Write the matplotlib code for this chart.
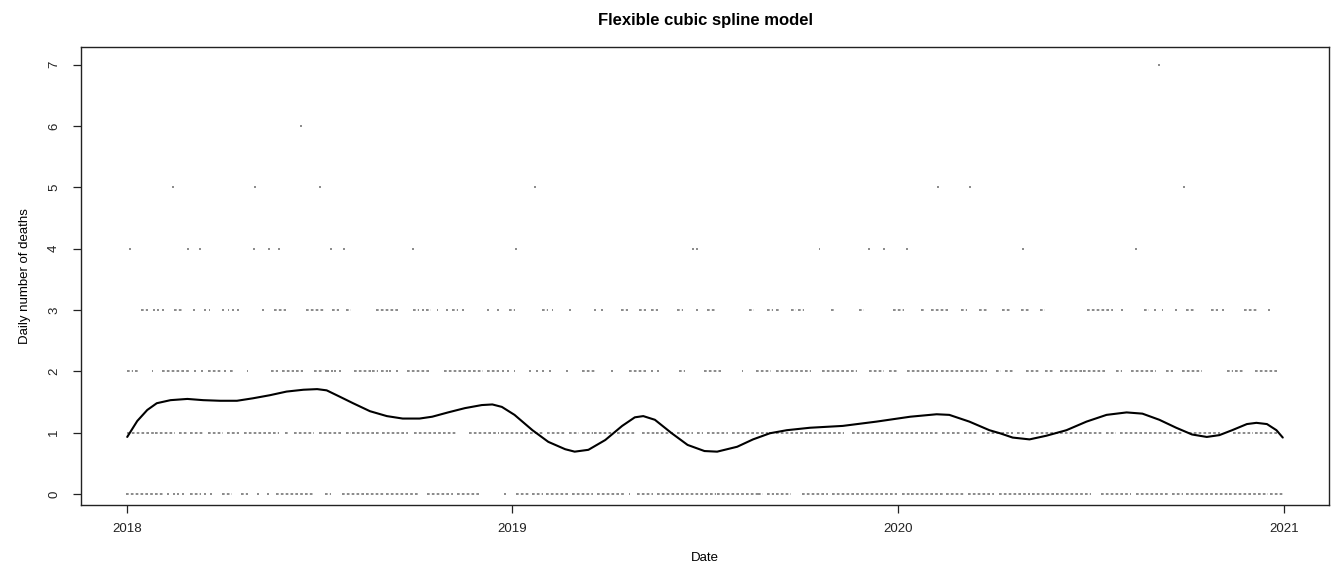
import numpy as np
import matplotlib
matplotlib.use("Agg")
import matplotlib.pyplot as plt

# ---------------- data (days since 2018-01-01) ----------------
# stretches of days where points appear at each daily count
runs_0 = [(0, 25), (27, 34), (39, 39), (44, 44), (48, 48), (53, 53), (60, 69), (74, 74), (79, 79),
          (91, 98), (109, 114), (124, 124), (133, 133), (142, 176), (188, 192), (204, 223), (227, 242),
          (246, 275), (285, 308), (313, 334), (358, 358), (369, 380), (384, 393), (398, 418), (422, 440),
          (446, 472), (476, 476), (484, 497), (503, 522), (526, 557), (560, 597), (599, 602), (607, 612),
          (616, 628), (640, 663), (669, 729), (735, 741), (744, 773), (777, 792), (798, 820), (827, 855),
          (858, 877), (881, 912), (924, 950), (957, 985), (991, 1000), (1004, 1042), (1045, 1080),
          (1084, 1095)]
runs_1 = [(1, 25), (27, 44), (50, 57), (60, 72), (77, 90), (95, 98), (100, 105), (112, 143), (150, 152),
          (159, 176), (183, 202), (208, 211), (214, 233), (237, 238), (242, 265), (273, 311), (325, 351),
          (355, 393), (399, 415), (420, 427), (432, 440), (443, 459), (465, 481), (489, 500), (502, 516),
          (522, 535), (541, 545), (550, 568), (574, 606), (609, 612), (616, 644), (647, 678), (688, 725),
          (729, 748), (753, 758), (762, 767), (773, 779), (782, 789), (794, 805), (811, 838), (844, 849),
          (857, 924), (928, 936), (942, 985), (988, 1000), (1007, 1035), (1049, 1066), (1070, 1089)]
runs_2 = [(1, 5), (8, 10), (24, 24), (34, 60), (64, 64), (71, 71), (77, 88), (93, 93), (98, 100),
          (114, 114), (137, 142), (148, 157), (161, 164), (166, 166), (178, 185), (188, 188), (190, 190),
          (194, 194), (197, 197), (202, 202), (216, 230), (233, 237), (241, 246), (249, 249), (256, 256),
          (266, 285), (301, 336), (342, 351), (356, 356), (361, 361), (367, 367), (382, 382), (388, 388),
          (394, 394), (401, 401), (417, 417), (432, 443), (459, 459), (476, 491), (497, 497), (503, 503),
          (524, 528), (547, 562), (583, 583), (597, 609), (616, 647), (659, 691), (704, 716), (723, 729),
          (740, 767), (772, 792), (796, 814), (824, 827), (833, 838), (853, 863), (871, 877), (885, 904),
          (907, 928), (938, 942), (952, 974), (985, 990), (1000, 1018), (1043, 1047), (1051, 1056),
          (1070, 1089)]
runs_3 = [(14, 19), (25, 25), (29, 29), (34, 34), (45, 52), (63, 63), (74, 74), (78, 78), (91, 91),
          (96, 96), (100, 100), (105, 105), (129, 129), (140, 150), (170, 186), (195, 200), (208, 211),
          (237, 257), (272, 276), (280, 280), (284, 287), (294, 294), (303, 303), (309, 313), (318, 318),
          (342, 342), (351, 351), (363, 367), (394, 398), (403, 403), (420, 420), (443, 443), (450, 450),
          (469, 474), (486, 491), (497, 502), (522, 526), (540, 540), (550, 557), (590, 593), (607, 611),
          (616, 618), (630, 633), (637, 640), (668, 670), (694, 697), (727, 735), (753, 755), (763, 777),
          (791, 795), (808, 814), (830, 836), (848, 855), (866, 869), (910, 933), (943, 943), (964, 967),
          (974, 974), (981, 981), (994, 994), (1004, 1010), (1028, 1033), (1038, 1038), (1059, 1071),
          (1082, 1082)]
days_4 = [3, 58, 69, 120, 134, 144, 193, 205, 271, 368, 536, 540, 656, 703, 717, 739, 849, 956]
days_5 = [43, 121, 183, 386, 768, 799, 1001]
days_6 = [165]
days_7 = [978]

# fitted spline (day, expected deaths)
spline_day = [0, 9.5, 19, 28, 41, 57, 72, 88, 104, 119, 135, 151, 167, 180, 189, 201, 214, 230, 246,
              261, 277, 289, 304, 320, 336, 346, 355, 367, 384, 399, 415, 424, 437, 453, 469, 481, 489,
              500, 516, 531, 547, 559, 578, 593, 609, 625, 647, 678, 710, 742, 767, 779, 798, 817, 827,
              839, 855, 871, 890, 909, 928, 947, 962, 978, 994, 1009, 1023, 1035, 1047, 1061, 1070,
              1080, 1089, 1095]
spline_val = [0.93, 1.19, 1.37, 1.48, 1.53, 1.55, 1.53, 1.52, 1.52, 1.56, 1.61, 1.67, 1.70, 1.71, 1.69,
              1.59, 1.48, 1.35, 1.27, 1.23, 1.23, 1.26, 1.33, 1.40, 1.45, 1.46, 1.42, 1.29, 1.04, 0.85,
              0.73, 0.69, 0.72, 0.88, 1.11, 1.25, 1.27, 1.21, 0.99, 0.80, 0.70, 0.69, 0.77, 0.89, 0.99,
              1.04, 1.08, 1.11, 1.18, 1.26, 1.30, 1.29, 1.18, 1.04, 0.99, 0.92, 0.89, 0.95, 1.04, 1.18,
              1.29, 1.33, 1.31, 1.21, 1.08, 0.97, 0.93, 0.96, 1.04, 1.14, 1.16, 1.14, 1.04, 0.92]

year_labels = ["2018", "2019", "2020", "2021"]
year_starts = ["2018-01-01", "2019-01-01", "2020-01-01", "2021-01-01"]
y_ticks = [0, 1, 2, 3, 4, 5, 6, 7]

# ---------------- plot ----------------
plt.rcParams['font.family'] = ['Liberation Sans', 'DejaVu Sans']
fig = plt.figure(figsize=(13.32, 5.64), dpi=100)
ax = fig.add_axes([81 / 1332, 1 - 505 / 564, (1329 - 81) / 1332, (505 - 47) / 564])

pt_color = '#777777'
half = 0.9
for level, runs in [(0, runs_0), (1, runs_1), (2, runs_2), (3, runs_3)]:
    xs0 = [a - half for a, b in runs]
    xs1 = [b + half for a, b in runs]
    ax.hlines([level] * len(runs), xs0, xs1, colors=pt_color, linewidth=1.2,
              linestyles=(0, (1.6, 1.3)))
for level, days in [(4, days_4), (5, days_5), (6, days_6), (7, days_7)]:
    ax.hlines([level] * len(days), [d - half for d in days], [d + half for d in days],
              colors=pt_color, linewidth=1.2)

ax.plot(spline_day, spline_val, color='black', linewidth=1.5, solid_capstyle='round')

base = np.datetime64("2018-01-01")
tick_pos = [(np.datetime64(s) - base).astype(int) for s in year_starts]
ax.set_xticks(tick_pos)
ax.set_xticklabels(year_labels)
ax.set_yticks(y_ticks)
ax.set_yticklabels([str(v) for v in y_ticks], rotation=90, va='center')

ax.set_xlim(-43.8, 1138.8)
ax.set_ylim(-0.18, 7.29)

for s in ax.spines.values():
    s.set_linewidth(1.0)
    s.set_color('#222222')
ax.tick_params(axis='both', direction='out', length=6, width=0.9, labelsize=9.5, colors='#222222')
ax.tick_params(axis='x', pad=7)
ax.tick_params(axis='y', pad=9)

ax.set_xlabel("Date", fontsize=9.5, labelpad=12)
ax.set_ylabel("Daily number of deaths", fontsize=9.5, labelpad=12)
ax.set_title("Flexible cubic spline model", fontsize=12, fontweight='bold', pad=16)

fig.savefig("out.png", dpi=100)
